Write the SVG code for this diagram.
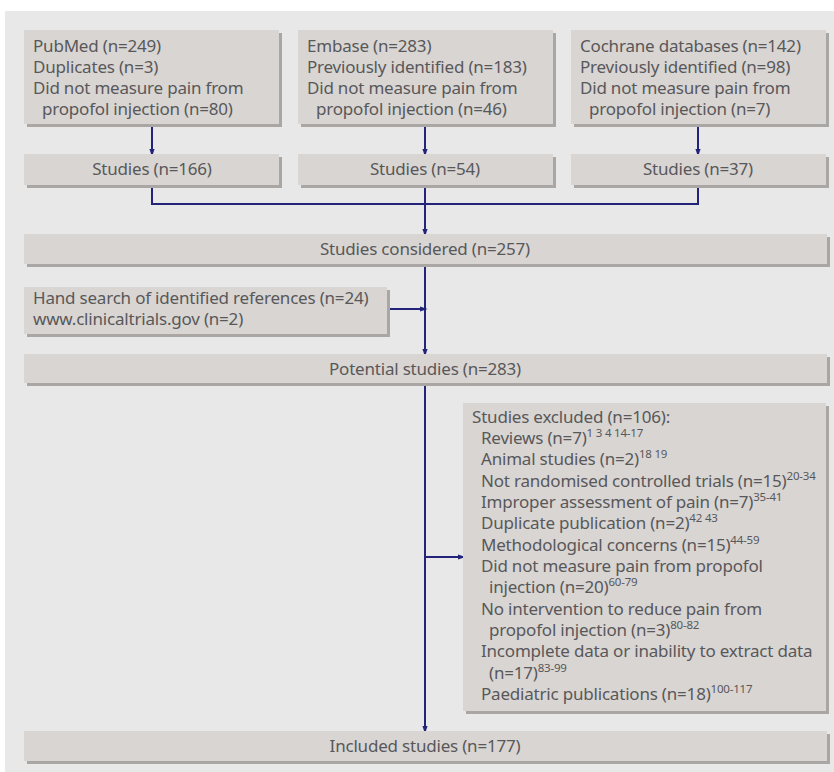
<svg xmlns="http://www.w3.org/2000/svg" width="834" height="772" viewBox="0 0 834 772">
<style>
.box{fill:#d9d5d2}
.sh{fill:#a9a6a4}
text{font-family:"Noto Sans","Open Sans","DejaVu Sans",sans-serif;font-size:17px;letter-spacing:-0.2px;fill:#58585a}
.c{text-anchor:middle}
.sup{font-size:11.5px;letter-spacing:-0.2px}
.ln{stroke:#23237a;stroke-width:2;fill:none}
</style>
<defs>
<marker id="ah" markerWidth="8" markerHeight="12" refX="8" refY="4" orient="auto" markerUnits="userSpaceOnUse" viewBox="0 0 12 8">
<path d="M0,0 L12,4 L0,8 Z" fill="#23237a"/>
</marker>
</defs>
<rect x="5" y="11" width="829" height="761" fill="#e8e8e8"/>
<g id="connectors">
<line class="ln" x1="152" y1="124" x2="152" y2="154" marker-end="url(#ah)"/>
<line class="ln" x1="425" y1="124" x2="425" y2="154" marker-end="url(#ah)"/>
<line class="ln" x1="698" y1="124" x2="698" y2="154" marker-end="url(#ah)"/>
<polyline class="ln" points="152,185 152,204 698,204 698,185"/>
<line class="ln" x1="425" y1="185" x2="425" y2="234" marker-end="url(#ah)"/>
<line class="ln" x1="425" y1="264" x2="425" y2="354" marker-end="url(#ah)"/>
<line class="ln" x1="387" y1="309" x2="425" y2="309" marker-end="url(#ah)"/>
<line class="ln" x1="425" y1="383" x2="425" y2="731" marker-end="url(#ah)"/>
<line class="ln" x1="425" y1="557" x2="463" y2="557" marker-end="url(#ah)"/>
</g>
<g id="pubmed">
<rect class="sh" x="27" y="33" width="255" height="94"/>
<rect class="box" x="24" y="30" width="255" height="94"/>
<text x="33" y="52">PubMed (n=249)</text>
<text x="33" y="73">Duplicates (n=3)</text>
<text x="33" y="94">Did not measure pain from</text>
<text x="42" y="115">propofol injection (n=80)</text>
</g>
<g id="embase">
<rect class="sh" x="301" y="33" width="255" height="94"/>
<rect class="box" x="298" y="30" width="255" height="94"/>
<text x="307" y="52">Embase (n=283)</text>
<text x="307" y="73">Previously identified (n=183)</text>
<text x="307" y="94">Did not measure pain from</text>
<text x="316" y="115">propofol injection (n=46)</text>
</g>
<g id="cochrane">
<rect class="sh" x="574" y="33" width="255" height="94"/>
<rect class="box" x="571" y="30" width="255" height="94"/>
<text x="580" y="52">Cochrane databases (n=142)</text>
<text x="580" y="73">Previously identified (n=98)</text>
<text x="580" y="94">Did not measure pain from</text>
<text x="589" y="115">propofol injection (n=7)</text>
</g>
<g id="studies1">
<rect class="sh" x="27" y="157" width="255" height="31"/>
<rect class="box" x="24" y="154" width="255" height="31"/>
<text class="c" x="152" y="175">Studies (n=166)</text>
</g>
<g id="studies2">
<rect class="sh" x="301" y="157" width="255" height="31"/>
<rect class="box" x="298" y="154" width="255" height="31"/>
<text class="c" x="425" y="175">Studies (n=54)</text>
</g>
<g id="studies3">
<rect class="sh" x="574" y="157" width="255" height="31"/>
<rect class="box" x="571" y="154" width="255" height="31"/>
<text class="c" x="698" y="175">Studies (n=37)</text>
</g>
<g id="considered">
<rect class="sh" x="27" y="237" width="803" height="30"/>
<rect class="box" x="24" y="234" width="803" height="30"/>
<text class="c" x="425" y="255">Studies considered (n=257)</text>
</g>
<g id="handsearch">
<rect class="sh" x="27" y="290" width="363" height="47"/>
<rect class="box" x="24" y="287" width="363" height="47"/>
<text x="33" y="304">Hand search of identified references (n=24)</text>
<text x="33" y="325">www.clinicaltrials.gov (n=2)</text>
</g>
<g id="potential">
<rect class="sh" x="27" y="357" width="803" height="29"/>
<rect class="box" x="24" y="354" width="803" height="29"/>
<text class="c" x="425" y="375">Potential studies (n=283)</text>
</g>
<g id="excluded">
<rect class="sh" x="466" y="406" width="363" height="308"/>
<rect class="box" x="463" y="403" width="363" height="308"/>
<text x="472" y="423">Studies excluded (n=106):</text>
<text x="481" y="444">Reviews (n=7)<tspan class="sup" dy="-7">1 3 4 14-17</tspan></text>
<text x="481" y="465">Animal studies (n=2)<tspan class="sup" dy="-7">18 19</tspan></text>
<text x="481" y="487">Not randomised controlled trials (n=15)<tspan class="sup" dy="-7">20-34</tspan></text>
<text x="481" y="508">Improper assessment of pain (n=7)<tspan class="sup" dy="-7">35-41</tspan></text>
<text x="481" y="529">Duplicate publication (n=2)<tspan class="sup" dy="-7">42 43</tspan></text>
<text x="481" y="551">Methodological concerns (n=15)<tspan class="sup" dy="-7">44-59</tspan></text>
<text x="481" y="572">Did not measure pain from propofol</text>
<text x="489" y="593">injection (n=20)<tspan class="sup" dy="-7">60-79</tspan></text>
<text x="481" y="615">No intervention to reduce pain from</text>
<text x="489" y="636">propofol injection (n=3)<tspan class="sup" dy="-7">80-82</tspan></text>
<text x="481" y="657">Incomplete data or inability to extract data</text>
<text x="489" y="679">(n=17)<tspan class="sup" dy="-7">83-99</tspan></text>
<text x="481" y="700">Paediatric publications (n=18)<tspan class="sup" dy="-7">100-117</tspan></text>
</g>
<g id="included">
<rect class="sh" x="27" y="734" width="803" height="30"/>
<rect class="box" x="24" y="731" width="803" height="30"/>
<text class="c" x="425" y="752">Included studies (n=177)</text>
</g>
</svg>
